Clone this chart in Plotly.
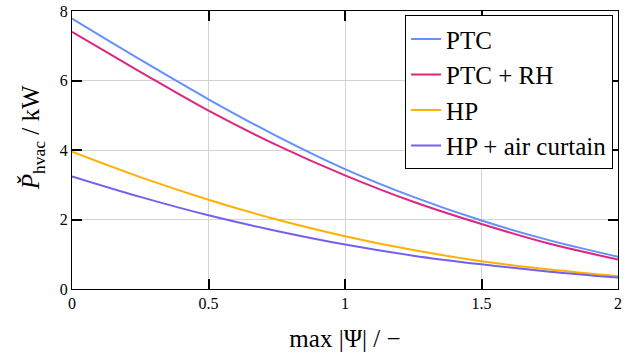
import plotly.graph_objects as go

x_vals = [0, 0.25, 0.5, 0.75, 1.0, 1.25, 1.5, 1.75, 2.0]
ptc = [7.78, 6.60, 5.46, 4.40, 3.45, 2.65, 1.97, 1.40, 0.93]
ptc_rh = [7.40, 6.25, 5.13, 4.14, 3.27, 2.51, 1.87, 1.30, 0.85]
hp = [3.95, 3.22, 2.57, 2.00, 1.52, 1.12, 0.80, 0.56, 0.37]
hp_air = [3.24, 2.65, 2.12, 1.67, 1.28, 0.96, 0.71, 0.50, 0.33]

series_names = ["PTC", "PTC + RH", "HP", "HP + air curtain"]
series_vals = [ptc, ptc_rh, hp, hp_air]
colors = ["#648FFF", "#DC267F", "#FFB000", "#785EF0"]

FONT = "Liberation Serif"

fig = go.Figure()
for name, vals, c in zip(series_names, series_vals, colors):
    fig.add_trace(go.Scatter(x=x_vals, y=vals, mode="lines", name=name,
                             line=dict(color=c, width=2, shape="spline", smoothing=1.0)))

axis_common = dict(
    showline=True, linecolor="black", linewidth=1, mirror="ticks",
    ticks="inside", ticklen=10, tickwidth=2, tickcolor="black",
    showgrid=True, gridcolor="#d3d3d3", gridwidth=1, zeroline=False,
    tickfont=dict(family=FONT, size=16, color="black"),
    ticklabeloverflow="allow",
)

fig.update_xaxes(range=[0, 2], dtick=0.5, tick0=0,
                 title=dict(text="max |Ψ| / −", font=dict(family=FONT, size=25, color="black"), standoff=18),
                 **axis_common)
fig.update_yaxes(range=[0, 8], dtick=2, tick0=0, **axis_common)

fig.add_annotation(
    text="<i>P̌</i><sub>hvac</sub> / kW", textangle=-90,
    xref="paper", yref="paper", x=-40 / 550, y=0.5, yshift=12,
    xanchor="center", yanchor="middle", showarrow=False,
    font=dict(family=FONT, size=25, color="black"),
)

fig.update_layout(
    width=625, height=360,
    margin=dict(l=72, r=3, t=7, b=71),
    plot_bgcolor="white", paper_bgcolor="white",
    font=dict(family=FONT, color="black"),
    showlegend=True,
    legend=dict(x=0.991, y=0.985, xanchor="right", yanchor="top",
                bgcolor="white", bordercolor="black", borderwidth=1,
                font=dict(family=FONT, size=25, color="black"),
                itemwidth=30, tracegroupgap=0),
)

fig.write_html("out.html")
